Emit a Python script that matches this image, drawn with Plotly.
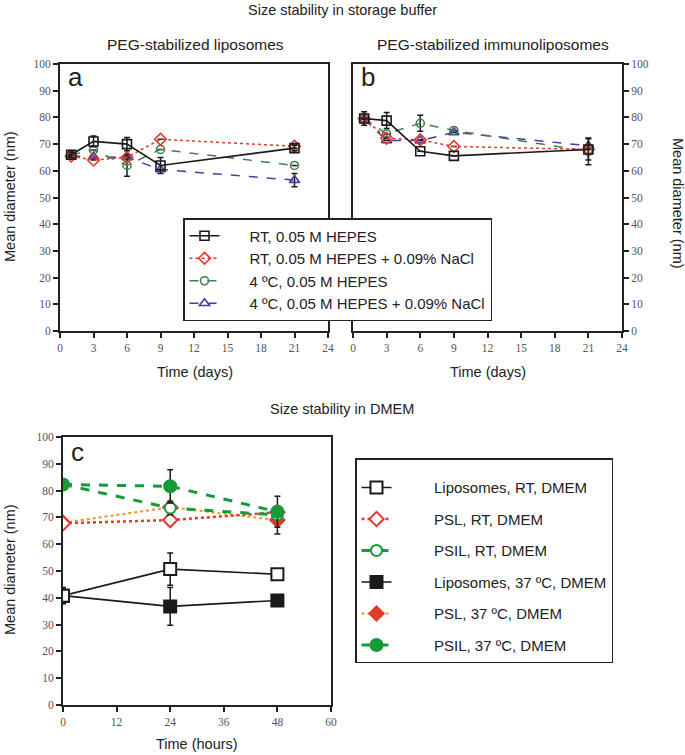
import plotly.graph_objects as go

W, H = 685, 755

# ---------------- data ----------------
days = [1, 3, 6, 9, 21]
hours = [0, 24, 48]

series_names_ab = [
    "RT, 0.05 M HEPES",
    "RT, 0.05 M HEPES + 0.09% NaCl",
    "4 ºC, 0.05 M HEPES",
    "4 ºC, 0.05 M HEPES + 0.09% NaCl",
]

# Panel a: PEG-stabilized liposomes
a_rt_hepes = [66, 71, 70, 62, 68.5]
a_rt_hepes_err = [1, 2, 2.5, 3, 1]
a_rt_nacl = [65.5, 64, 65, 71.8, 69.2]
a_rt_nacl_err = [0, 0, 0, 0, 0.8]
a_4c_hepes = [66, 67.8, 62, 68, 62]
a_4c_hepes_err = [0, 0, 4, 0, 0]
a_4c_nacl = [65.5, 65.3, 65, 60.5, 56.5]
a_4c_nacl_err = [0, 0, 0, 0, 2.5]

# Panel b: PEG-stabilized immunoliposomes
b_rt_hepes = [79.6, 78.8, 67.3, 65.6, 68]
b_rt_hepes_err = [2.5, 3, 0, 0, 4]
b_rt_nacl = [79.6, 72.2, 71.6, 69.1, 68]
b_rt_nacl_err = [0, 0, 0, 0, 0]
b_4c_hepes = [79.6, 73.8, 77.8, 75.1, 67.3]
b_4c_hepes_err = [0, 0, 3, 0, 5]
b_4c_nacl = [79.3, 71.4, 71.3, 74.4, 69.4]
b_4c_nacl_err = [0, 0, 0, 0, 0]

# Panel c: DMEM
names_c = [
    "Liposomes, RT, DMEM",
    "PSL, RT, DMEM",
    "PSIL, RT, DMEM",
    "Liposomes, 37 ºC, DMEM",
    "PSL, 37 ºC, DMEM",
    "PSIL, 37 ºC, DMEM",
]
c_lipo_rt = [40.8, 50.7, 48.8]
c_lipo_rt_err = [3, 6, 0]
c_psl_rt = [67.8, 69, 71.9]
c_psl_rt_err = [0, 0, 0]
c_psil_rt = [82.3, 73.5, 70.9]
c_psil_rt_err = [0, 2.5, 0]
c_lipo_37 = [40.8, 36.8, 39]
c_lipo_37_err = [2.5, 7, 0]
c_psl_37 = [68, 73.8, 69]
c_psl_37_err = [0, 0, 5.2]
c_psil_37 = [82.3, 81.6, 72.1]
c_psil_37_err = [0, 6.2, 5.8]

# ---------------- styles ----------------
BLACK = "#1a1a1a"
RED = "#e2392a"
GREEN_AB = "#3f8052"
PURPLE = "#4b3b9c"
GREEN_C = "#179a3a"
ORANGE = "#f0951f"

styles_ab = [
    dict(color=BLACK, dash="solid", symbol="square-open", size=9, width=1.6),
    dict(color=RED, dash="dot", symbol="diamond-open", size=9, width=1.5),
    dict(color=GREEN_AB, dash="dash", symbol="circle-open", size=8, width=1.5),
    dict(color=PURPLE, dash="dash", symbol="triangle-up-open", size=9, width=1.5),
]

fig = go.Figure()

def err(arr):
    return dict(type="data", array=arr, visible=True, color=BLACK, thickness=1.5, width=3)

data_a = [(a_rt_hepes, a_rt_hepes_err), (a_rt_nacl, a_rt_nacl_err),
          (a_4c_hepes, a_4c_hepes_err), (a_4c_nacl, a_4c_nacl_err)]
data_b = [(b_rt_hepes, b_rt_hepes_err), (b_rt_nacl, b_rt_nacl_err),
          (b_4c_hepes, b_4c_hepes_err), (b_4c_nacl, b_4c_nacl_err)]

PAD_A = "\u00a0" * 6
# draw in reverse so black lies on top
for i in [3, 2, 1, 0]:
    st = styles_ab[i]
    for (vals, e), xa, ya, show in [(data_a[i], "x", "y", True), (data_b[i], "x2", "y2", False)]:
        fig.add_trace(go.Scatter(
            x=days, y=vals, xaxis=xa, yaxis=ya, name=PAD_A + series_names_ab[i],
            mode="lines+markers", showlegend=show, legend="legend",
            legendgroup="ab%d" % i, legendrank=i + 1,
            line=dict(color=st["color"], dash=st["dash"], width=st["width"]),
            marker=dict(symbol=st["symbol"], size=st["size"], color=st["color"],
                        line=dict(color=st["color"], width=1.6)),
            error_y=err(e),
        ))

styles_c = [
    dict(color=BLACK, dash="solid", symbol="square", fill="white", size=12, width=1.6, mlc=BLACK),
    dict(color=RED, dash="dot", symbol="diamond", fill="white", size=11, width=2.5, mlc=RED),
    dict(color=GREEN_C, dash="dash", symbol="circle", fill="white", size=11, width=3, mlc=GREEN_C),
    dict(color=BLACK, dash="solid", symbol="square", fill=BLACK, size=12, width=1.6, mlc=BLACK),
    dict(color=ORANGE, dash="dot", symbol="diamond", fill=RED, size=11, width=2, mlc=RED),
    dict(color=GREEN_C, dash="dash", symbol="circle", fill=GREEN_C, size=12, width=3, mlc=GREEN_C),
]
data_c = [(c_lipo_rt, c_lipo_rt_err), (c_psl_rt, c_psl_rt_err), (c_psil_rt, c_psil_rt_err),
          (c_lipo_37, c_lipo_37_err), (c_psl_37, c_psl_37_err), (c_psil_37, c_psil_37_err)]

PAD = "\u00a0" * 9
for i in [4, 1, 2, 5, 3, 0]:
    st = styles_c[i]
    vals, e = data_c[i]
    fig.add_trace(go.Scatter(
        x=hours, y=vals, xaxis="x3", yaxis="y3", name=PAD + names_c[i],
        mode="lines+markers", legend="legend2", legendgroup="c%d" % i, legendrank=i + 1,
        line=dict(color=st["color"], dash=st["dash"], width=st["width"]),
        marker=dict(symbol=st["symbol"], size=st["size"], color=st["fill"],
                    line=dict(color=st["mlc"], width=2)),
        error_y=err(e),
    ))

# ---------------- layout ----------------
def px_x(p):
    return p / W

def px_y(p):
    return 1 - p / H

tickfont = dict(family="Liberation Serif, Times New Roman, serif", size=11.5, color="#555555")

def xaxis(dom, anchor, tvals):
    return dict(domain=[px_x(dom[0]), px_x(dom[1])], anchor=anchor, range=[tvals[0], tvals[-1]],
                tickvals=tvals, ticks="outside", ticklen=5, tickwidth=1.5, tickcolor="#222",
                showline=True, linecolor="#222", linewidth=1.8, mirror=True,
                showgrid=False, zeroline=False, tickfont=tickfont, fixedrange=True)

def yaxis(dom, anchor, side="left"):
    return dict(domain=[px_y(dom[1]), px_y(dom[0])], anchor=anchor, range=[0, 100],
                tickvals=list(range(0, 101, 10)), ticks="outside", ticklen=5, tickwidth=1.5,
                tickcolor="#222", side=side,
                showline=True, linecolor="#222", linewidth=1.8, mirror=True,
                showgrid=False, zeroline=False, tickfont=tickfont, fixedrange=True)

xt_days = list(range(0, 25, 3))
xt_hours = list(range(0, 61, 12))

sans = "Liberation Sans, Arial, Helvetica, sans-serif"

fig.update_layout(
    width=W, height=H, margin=dict(l=0, r=0, t=0, b=0, autoexpand=False),
    paper_bgcolor="white", plot_bgcolor="white",
    font=dict(family=sans, color="#222"),
    xaxis=xaxis((60, 328), "y", xt_days),
    yaxis=yaxis((64, 331), "x"),
    xaxis2=xaxis((353, 622), "y2", xt_days),
    yaxis2=yaxis((64, 331), "x2", side="right"),
    xaxis3=xaxis((63, 331), "y3", xt_hours),
    yaxis3=yaxis((437, 705), "x3"),
    legend=dict(x=px_x(183), y=px_y(218), xanchor="left", yanchor="top",
                bgcolor="white", bordercolor="#222", borderwidth=1.5,
                font=dict(family=sans, size=15, color="#222"),
                traceorder="grouped", tracegroupgap=0, itemclick=False),
    legend2=dict(x=px_x(355), y=px_y(458), xanchor="left", yanchor="top",
                 bgcolor="white", bordercolor="#222", borderwidth=1.5,
                 font=dict(family=sans, size=15, color="#222"),
                 title=dict(text="\u00a0", font=dict(size=9)),
                 traceorder="grouped", tracegroupgap=9, itemclick=False),
)

def ann(text, x, y, size=14, angle=0):
    fig.add_annotation(text=text, x=px_x(x), y=px_y(y), xref="paper", yref="paper",
                       xanchor="center", yanchor="middle",
                       showarrow=False, textangle=angle,
                       font=dict(family=sans, size=size, color="#222"))

ann("Size stability in storage buffer", 342, 10, 14.5)
ann("PEG-stabilized liposomes", 195, 44, 15.5)
ann("PEG-stabilized immunoliposomes", 493, 44, 15.5)
ann("Size stability in DMEM", 342, 409, 14.5)
ann("Time (days)", 195, 372, 14.5)
ann("Time (days)", 488, 372, 14.5)
ann("Time (hours)", 197, 744, 14.5)
ann("Mean diameter (nm)", 10, 197, 14.5, angle=-90)
ann("Mean diameter (nm)", 10, 570, 14.5, angle=-90)
ann("Mean diameter (nm)", 678, 203, 14.5, angle=90)
ann("a", 75, 77, 26)
ann("b", 368, 77, 26)
ann("c", 77, 452, 26)

fig.write_html("out.html", config={"displayModeBar": False},
               post_script="document.body.style.margin='0';")
